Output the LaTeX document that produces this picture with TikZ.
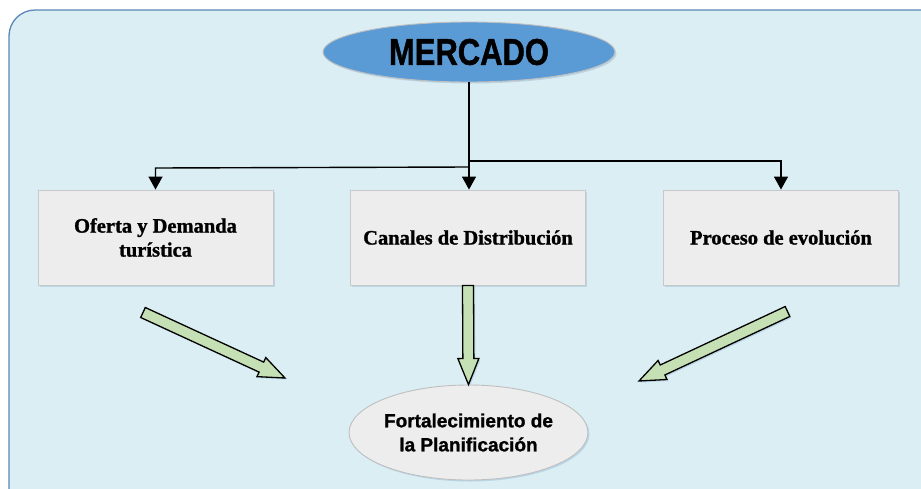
\documentclass[tikz,border=0pt]{standalone}
\usepackage{graphicx}
\usepackage{fontspec}
\setmainfont{Liberation Serif}[BoldFeatures={FakeBold=1.2}]
\newfontfamily\sansbold{Liberation Sans}[BoldFeatures={FakeBold=1.2}]
\usetikzlibrary{shapes.geometric,arrows.meta,calc,shadows}
\definecolor{bgfill}{HTML}{DBEEF4}
\definecolor{bgline}{HTML}{5A86B8}
\definecolor{topfill}{HTML}{5B9BD5}
\definecolor{ovline}{HTML}{BFBFBF}
\definecolor{boxfill}{HTML}{EDEDED}
\definecolor{boxline}{HTML}{C8C8C8}
\definecolor{greenfill}{HTML}{C5E0B4}
\definecolor{shadowc}{HTML}{7FA9C9}
\newcommand{\greenarrow}[2]{%
  \coordinate (gh) at ($(#2)!26pt!(#1)$);
  \draw[garrow] ($(#1)!5.5pt!90:(#2)$) -- ($(gh)!5.5pt!90:(#2)$) -- ($(gh)!10.5pt!90:(#2)$) -- (#2)
    -- ($(gh)!10.5pt!-90:(#2)$) -- ($(gh)!5.5pt!-90:(#2)$) -- ($(#1)!5.5pt!-90:(#2)$) -- cycle;}
\begin{document}
\begin{tikzpicture}[x=1pt,y=-1pt,
  softshadow/.style={drop shadow={shadow xshift=1.5pt,shadow yshift=-1.5pt,fill=shadowc,opacity=0.35}},
  box/.style={draw=boxline, fill=boxfill, line width=0.9pt, minimum width=235pt, minimum height=95pt,
    inner sep=0pt, align=center, font=\fontsize{20.5}{24}\selectfont\bfseries, softshadow},
  topoval/.style={ellipse, draw=ovline, fill=topfill, line width=0.9pt, minimum width=292pt,
    minimum height=60pt, inner sep=0pt, softshadow},
  botoval/.style={ellipse, draw=ovline, fill=boxfill, line width=0.9pt, minimum width=233pt,
    minimum height=95pt, inner sep=0pt, align=center, font=\sansbold\fontsize{19}{24}\selectfont\bfseries, softshadow},
  conn/.style={draw=black, line width=1.4pt, -{Triangle[length=13pt,width=14pt]}},
  garrow/.style={draw=black, fill=greenfill, line width=1.3pt, line join=miter, softshadow}]
\clip (0,0) rectangle (921,488);
\useasboundingbox (0,0) rectangle (921,488);
\draw[fill=bgfill, draw=bgline, line width=1.3pt, rounded corners=26pt] (9,10) rectangle (980,540);

\node[topoval] (mercado) at (469,52) {\resizebox{160pt}{26pt}{\sansbold\bfseries MERCADO}};

\node[box] (oferta) at (155.5,237.5) {Oferta y Demanda\\turística};
\node[box] (canales) at (468,237.5) {Canales de Distribución};
\node[box] (proceso) at (781,237.5) {Proceso de evolución};

\node[botoval] (fort) at (468.5,432.5) {Fortalecimiento de\\la Planificación};

\draw[conn] (mercado.south) -- (mercado.south |- canales.north);
\draw[conn] (mercado.south |- 0,167) -- (oferta.north |- 0,168) -- (oferta.north);
\draw[conn] (mercado.south |- 0,161) -- (proceso.north |- 0,161) -- (proceso.north);

\coordinate (a1s) at (143,312.5);
\coordinate (a1e) at (285,378);
\coordinate (a2s) at (canales.south);
\coordinate (a2e) at (fort.north);
\coordinate (a3s) at (787.5,311.5);
\coordinate (a3e) at (639,381);
\greenarrow{a1s}{a1e}
\greenarrow{a2s}{a2e}
\greenarrow{a3s}{a3e}
\end{tikzpicture}
\end{document}
